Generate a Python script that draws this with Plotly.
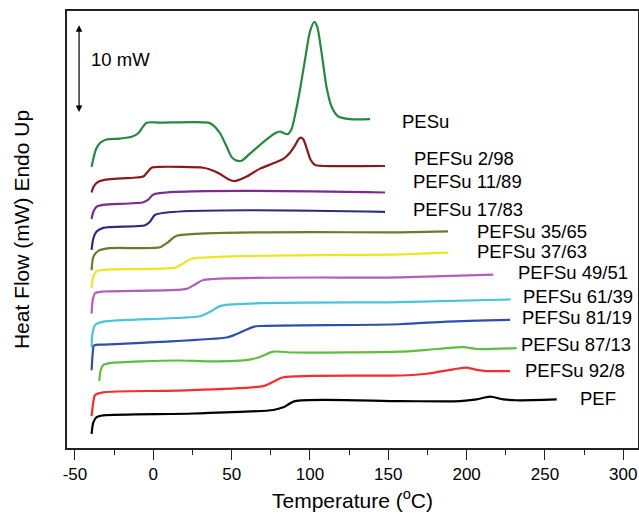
import plotly.graph_objects as go

# DSC heating traces (temperature in degC, heat flow in mW incl. vertical offset)
labels = ['PESu', 'PEFSu 2/98', 'PEFSu 11/89', 'PEFSu 17/83', 'PEFSu 35/65', 'PEFSu 37/63',
          'PEFSu 49/51', 'PEFSu 61/39', 'PEFSu 81/19', 'PEFSu 87/13', 'PEFSu 92/8', 'PEF']

x_ticks = [-50, 0, 50, 100, 150, 200, 250, 300]
x_ticktext = ['-50', '0', '50', '100', '150', '200', '250', '300']

pesu_t = [-39.4, -38.3, -36.6, -34.0, -29.8, -21.3, -13.8, -9.6, -6.8, -4.3, 4.3, 35.1, 38.3, 42.6,
          46.8, 50.0, 53.2, 56.4, 61.7, 70.2, 77.7, 80.9, 83.4, 85.8, 88.3, 90.4, 93.6, 96.8, 100.0,
          102.8, 104.7, 107.5, 110.6, 113.8, 118.1, 125.5, 138.3]
pesu_hf = [31.8, 32.7, 33.8, 34.5, 34.9, 35.0, 35.2, 35.6, 36.3, 36.8, 36.8, 36.8, 36.5, 35.6,
           34.1, 32.9, 32.5, 32.5, 33.3, 34.6, 35.6, 35.8, 35.6, 35.5, 36.1, 37.6, 40.5, 43.9, 47.1,
           48.2, 47.6, 44.6, 40.8, 38.6, 37.5, 37.2, 37.2]

p2_t = [-39.4, -38.3, -36.2, -31.9, -10.6, -6.4, -3.8, -1.1, 4.3, 31.9, 36.2, 42.6, 47.9, 51.1,
        54.3, 59.6, 68.1, 76.6, 83.0, 87.2, 90.4, 92.6, 94.1, 95.8, 97.9, 100.4, 103.2, 108.5, 147.9]
p2_hf = [28.9, 29.5, 30.0, 30.3, 30.6, 30.7, 31.2, 31.7, 31.8, 31.7, 31.5, 31.0, 30.4, 30.2,
         30.3, 30.7, 31.6, 32.2, 32.7, 33.4, 34.2, 34.9, 35.1, 34.9, 33.9, 32.6, 32.0, 31.9, 31.9]

p11_t = [-39.4, -38.3, -36.2, -31.9, -6.4, -3.2, 0.4, 147.9]
p11_hf = [25.9, 26.7, 27.3, 27.5, 27.8, 28.1, 28.7, 28.9]

p17_t = [-39.4, -38.3, -36.2, -31.9, -5.3, -2.1, 1.5, 147.9]
p17_hf = [22.4, 23.7, 24.5, 24.9, 25.2, 25.6, 26.4, 26.7]

p35_t = [-39.4, -38.3, -35.1, -27.7, 4.3, 9.6, 14.9, 157.5, 188.1]
p35_hf = [20.1, 21.6, 22.3, 22.6, 22.7, 23.3, 24.0, 24.4, 24.5]

p37_t = [-39.4, -38.3, -36.2, -27.7, 13.8, 19.2, 24.5, 157.5, 188.3]
p37_hf = [18.1, 19.4, 20.0, 20.2, 20.4, 20.9, 21.4, 21.9, 22.1]

p49_t = [-39.4, -38.7, -37.2, -31.9, 21.3, 26.6, 31.9, 157.5, 217.0]
p49_hf = [15.2, 16.7, 17.5, 17.7, 18.0, 18.5, 19.0, 19.3, 19.6]

p61_t = [-39.4, -38.9, -37.2, -31.9, 29.8, 36.2, 43.6, 157.5, 228.1]
p61_hf = [11.4, 12.9, 13.9, 14.3, 14.9, 15.4, 16.1, 16.5, 16.8]

p81_t = [-39.4, -38.6, -37.9, -31.9, 4.3, 46.8, 52.1, 63.8, 68.1, 157.5, 187.3, 227.7]
p81_hf = [8.8, 10.9, 11.6, 11.7, 12.0, 12.5, 12.8, 13.7, 13.8, 14.0, 14.3, 14.5]

p87_t = [-34.5, -33.6, -31.9, -27.7, 14.9, 36.2, 61.7, 68.1, 76.6, 89.4, 157.5, 174.5, 197.9,
         206.4, 231.9]
p87_hf = [7.6, 8.8, 9.4, 9.6, 9.9, 9.8, 10.0, 10.3, 10.9, 10.8, 10.9, 11.1, 11.4, 11.2, 11.3]

p92_t = [-39.4, -38.3, -37.2, -31.9, 14.9, 70.2, 76.6, 83.0, 157.5, 174.5, 191.5, 200.0, 207.4,
         212.8, 227.7]
p92_hf = [3.6, 5.2, 6.0, 6.3, 6.5, 7.0, 7.5, 8.0, 8.2, 8.4, 8.9, 9.1, 8.8, 8.7, 8.7]

pef_t = [-39.4, -38.3, -36.2, -31.9, 25.5, 76.6, 83.0, 90.4, 157.5, 195.8, 206.4, 214.9, 223.4,
         231.9, 257.5]
pef_hf = [1.6, 2.9, 3.5, 3.7, 3.9, 4.3, 4.6, 5.3, 5.3, 5.3, 5.5, 5.8, 5.5, 5.4, 5.5]

series_t = [pesu_t, p2_t, p11_t, p17_t, p35_t, p37_t, p49_t, p61_t, p81_t, p87_t, p92_t, pef_t]
series_hf = [pesu_hf, p2_hf, p11_hf, p17_hf, p35_hf, p37_hf, p49_hf, p61_hf, p81_hf, p87_hf, p92_hf, pef_hf]

colors = ['#23893F', '#8B1A1A', '#7D2B8F', '#2B2D7E', '#6B7B2C', '#EDE522',
          '#B35EB6', '#4BC3DE', '#2F4FAF', '#5DBE3F', '#F22E2E', '#000000']

# where each curve label sits (left edge, centre height)
label_pos = [(157.5, 36.9), (164.9, 32.8), (164.3, 30.1), (164.3, 27.0), (205.3, 24.5), (205.3, 22.25),
             (231.5, 19.8), (234.7, 17.1), (234.0, 14.8), (233.6, 11.7), (236.2, 8.8), (271.3, 5.65)]

FONT = 'Liberation Sans, Arial, sans-serif'

fig = go.Figure()

for name, t, hf, c in zip(labels, series_t, series_hf, colors):
    fig.add_trace(go.Scatter(
        x=t, y=hf, mode='lines', name=name,
        line=dict(color=c, width=2.2, shape='spline', smoothing=0.7),
        showlegend=False, hoverinfo='skip'
    ))

for name, (lx, ly) in zip(labels, label_pos):
    fig.add_annotation(x=lx, y=ly, xref='x', yref='y', text=name, showarrow=False,
                       xanchor='left', yanchor='middle', font=dict(size=18.5, color='black'))

# 10 mW scale bar
fig.add_annotation(x=-47.4, y=38.0, ax=-47.4, ay=48.0, xref='x', yref='y', axref='x', ayref='y',
                   text='', showarrow=True, arrowhead=2, startarrowhead=2, arrowside='end+start',
                   arrowsize=1.1, startarrowsize=1.1, arrowwidth=1.2, arrowcolor='black')
fig.add_annotation(x=-41.1, y=43.9, xref='x', yref='y', text='10 mW', showarrow=False,
                   xanchor='left', yanchor='middle', font=dict(size=18.5, color='black'))

fig.update_layout(
    width=639, height=519,
    margin=dict(l=67, r=1, t=11, b=71),
    paper_bgcolor='white', plot_bgcolor='white',
    font=dict(family=FONT, color='black'),
    xaxis=dict(
        range=[-55.1, 309.4], tickmode='array', tickvals=x_ticks, ticktext=x_ticktext,
        ticks='outside', ticklen=10, tickwidth=1.3, tickcolor='#222',
        minor=dict(dtick=25, tick0=-50, ticks='outside', ticklen=5, tickwidth=1.3, tickcolor='#222'),
        showline=True, linecolor='#222', linewidth=1.5, mirror=True,
        showgrid=False, zeroline=False,
        tickfont=dict(size=17),
        title=dict(text='Temperature (<sup>o</sup>C)', font=dict(size=21), standoff=10),
        automargin=False
    ),
    yaxis=dict(
        range=[0, 49.43], showticklabels=False, ticks='',
        showline=True, linecolor='#222', linewidth=1.5, mirror=True,
        showgrid=False, zeroline=False,
        title=dict(text='Heat Flow (mW) Endo Up', font=dict(size=21), standoff=30),
        automargin=False
    )
)

fig.write_html('out.html', config={'displayModeBar': False},
               post_script="document.body.style.margin='0';")
